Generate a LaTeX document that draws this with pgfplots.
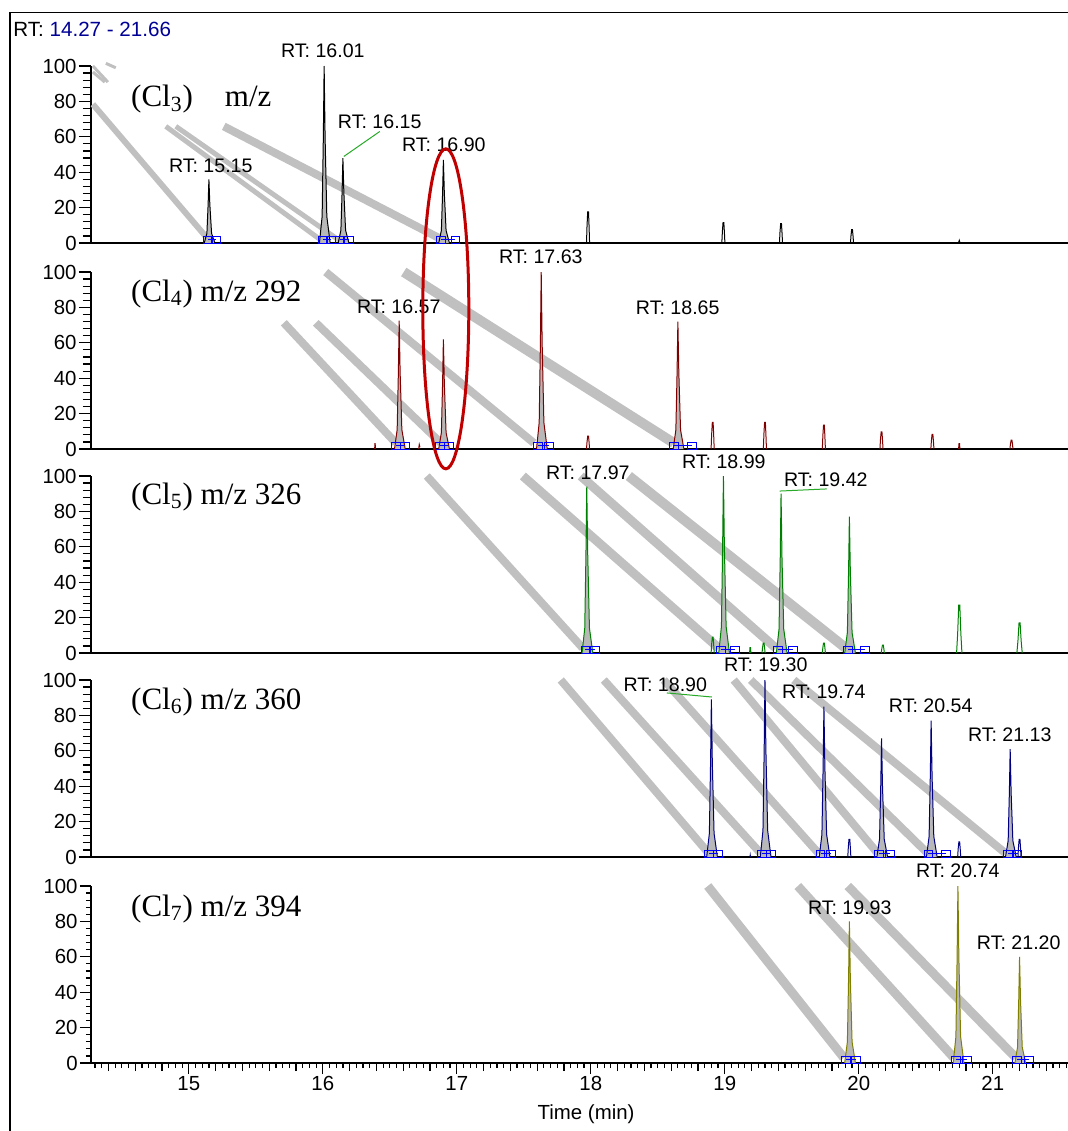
\documentclass[border=0pt]{standalone}
\usepackage{fontspec}
\setmainfont{Liberation Sans}
\newfontfamily\timesfont{Liberation Serif}
\usepackage{pgfplots}
\pgfplotsset{compat=1.18}

\definecolor{pkA}{RGB}{0,0,0}
\definecolor{pkB}{RGB}{128,0,0}
\definecolor{pkC}{RGB}{0,128,0}
\definecolor{pkD}{RGB}{0,0,128}
\definecolor{pkE}{RGB}{128,128,0}
\definecolor{bandc}{RGB}{192,192,192}
\definecolor{ellred}{RGB}{192,0,0}
\definecolor{rtblue}{RGB}{0,0,150}
\definecolor{lead}{RGB}{40,170,40}
\definecolor{mkblue}{RGB}{0,0,255}

\tikzset{
  rt/.style={font=\fontsize{9.8}{11}\selectfont, inner sep=0pt},
  lab/.style={font=\timesfont\fontsize{15.5}{18}\selectfont, anchor=west, inner sep=0pt},
}
\pgfplotsset{
  pnl/.style={scale only axis, width=495.1pt, height=88.5pt,
    xmin=14.27, xmax=21.66, ymin=0, ymax=100,
    axis lines*=left, clip=false, anchor=south west,
    ytick={0,20,...,100}, minor y tick num=4, xtick=\empty,
    tick align=outside, major tick length=6pt, minor tick length=4pt,
    ticklabel style={font=\fontsize{10.2}{12}\selectfont, inner sep=1pt},
    axis line style={line width=0.7pt},
    tick style={line width=0.6pt, black},
    /pgf/number format/assume math mode=true},
  band/.style={draw=bandc, line width=#1, no markers},
  pk/.style={draw=#1, fill=black!28, line width=0.5pt, no markers},
  sm/.style={draw=#1, line width=0.5pt, no markers},
  mk/.style={draw=mkblue, line width=0.5pt, mark=square, mark size=2.2pt,
    mark options={yscale=0.75, solid}},
}

\begin{document}
\begin{tikzpicture}
\useasboundingbox (0,0) rectangle (533.5pt,-565.5pt);
\draw[line width=0.8pt] (5pt,-570pt) -- (5pt,-6.25pt) -- (540pt,-6.25pt);
\node[anchor=west, inner sep=0pt, font=\fontsize{10.3}{12}\selectfont] at (6.5pt,-14.5pt) {RT: \textcolor{rtblue}{14.27 - 21.66}};

% ---------- Cl3 ----------
\begin{axis}[pnl, at={(45.5pt,-121.5pt)}]
\addplot[band=3pt] coordinates {(14.284,78.4) (15.149,1.7)};
\addplot[band=2.5pt] coordinates {(14.828,65.9) (15.985,1.7)};
\addplot[band=2.5pt] coordinates {(14.903,65.9) (16.119,1.7)};
\addplot[band=4pt] coordinates {(15.261,65.9) (16.896,1.7)};
\addplot[band=1.5pt] coordinates {(14.284,100) (14.396,90.9)};
\addplot[band=1.5pt] coordinates {(14.284,96.6) (14.373,90.9)};
\addplot[band=1.5pt] coordinates {(14.381,101.5) (14.455,99)};

\addplot[pk=pkA] coordinates {(15.115,0) (15.135,5.4) (15.144,21.6) (15.15,36) (15.157,21.6) (15.17,5.4) (15.195,0)};
\addplot[pk=pkA] coordinates {(15.975,0) (15.995,15) (16.004,60) (16.01,100) (16.017,60) (16.03,15) (16.055,0)};
\addplot[pk=pkA] coordinates {(16.115,0) (16.135,7.2) (16.144,28.8) (16.15,48) (16.157,28.8) (16.17,7.2) (16.195,0)};
\addplot[pk=pkA] coordinates {(16.865,0) (16.885,7.1) (16.894,28.2) (16.9,47) (16.907,28.2) (16.92,7.1) (16.945,0)};
\addplot[sm=pkA] coordinates {(17.968,0) (17.972,9.7) (17.977,17.6) (17.983,17.6) (17.987,9.7) (17.991,0)};
\addplot[sm=pkA] coordinates {(18.978,0) (18.982,6.3) (18.987,11.5) (18.993,11.5) (18.997,6.3) (19.001,0)};
\addplot[sm=pkA] coordinates {(19.408,0) (19.412,6) (19.417,11) (19.423,11) (19.427,6) (19.431,0)};
\addplot[sm=pkA] coordinates {(19.938,0) (19.942,4.1) (19.947,7.5) (19.953,7.5) (19.957,4.1) (19.961,0)};
\addplot[sm=pkA] coordinates {(20.745,0.3) (20.75,1.5) (20.755,0.3)};

\addplot[mk] coordinates {(15.145,1.8) (15.205,1.8)};
\addplot[mk] coordinates {(16.0,1.8) (16.06,1.8)};
\addplot[mk] coordinates {(16.125,1.8) (16.195,1.8)};
\addplot[mk] coordinates {(16.885,1.8) (16.99,1.8)};
\addplot[draw=lead, line width=0.5pt, no markers] coordinates {(16.157,48.9) (16.425,63)};

\node[rt] at (axis cs:15.164,43.75) {RT: 15.15};
\node[rt] at (axis cs:16.0,108.5) {RT: 16.01};
\node[rt] at (axis cs:16.425,68.75) {RT: 16.15};
\node[rt] at (axis cs:16.903,55.7) {RT: 16.90};
\node[lab] at (axis cs:14.567,81.25) {(Cl\textsubscript{3})\hspace{16pt}m/z};
\end{axis}

% ---------- Cl4 ----------
\begin{axis}[pnl, at={(45.5pt,-224.5pt)}]
\addplot[band=4pt] coordinates {(15.709,71.3) (16.545,3.4)};
\addplot[band=4pt] coordinates {(15.948,71.3) (16.881,3.4)};
\addplot[band=4pt] coordinates {(16.022,100) (17.575,3.4)};
\addplot[band=5pt] coordinates {(16.604,100) (18.619,3.4)};

\addplot[pk=pkB] coordinates {(16.535,0) (16.555,10.9) (16.564,43.5) (16.57,72.5) (16.577,43.5) (16.59,10.9) (16.615,0)};
\addplot[pk=pkB] coordinates {(16.865,0) (16.885,9.3) (16.894,37.2) (16.9,62) (16.907,37.2) (16.92,9.3) (16.945,0)};
\addplot[pk=pkB] coordinates {(17.595,0) (17.615,15) (17.624,60) (17.63,100) (17.637,60) (17.65,15) (17.675,0)};
\addplot[pk=pkB] coordinates {(18.615,0) (18.635,10.8) (18.644,43.2) (18.65,72) (18.657,43.2) (18.67,10.8) (18.695,0)};
\addplot[sm=pkB] coordinates {(16.387,0) (16.389,3) (16.391,3) (16.393,0)};
\addplot[sm=pkB] coordinates {(16.715,0) (16.72,2.5) (16.725,1)};
\addplot[sm=pkB] coordinates {(17.968,0) (17.972,4) (17.977,7.3) (17.983,7.3) (17.987,4) (17.991,0)};
\addplot[sm=pkB] coordinates {(18.898,0) (18.902,8.3) (18.907,15) (18.913,15) (18.917,8.3) (18.921,0)};
\addplot[sm=pkB] coordinates {(19.288,0) (19.292,8.3) (19.297,15) (19.303,15) (19.307,8.3) (19.311,0)};
\addplot[sm=pkB] coordinates {(19.728,0) (19.732,7.4) (19.737,13.5) (19.743,13.5) (19.747,7.4) (19.751,0)};
\addplot[sm=pkB] coordinates {(20.158,0) (20.162,5.3) (20.167,9.7) (20.173,9.7) (20.177,5.3) (20.181,0)};
\addplot[sm=pkB] coordinates {(20.538,0) (20.542,4.6) (20.547,8.3) (20.553,8.3) (20.557,4.6) (20.561,0)};
\addplot[sm=pkB] coordinates {(20.745,0) (20.748,3) (20.752,3) (20.755,0)};
\addplot[sm=pkB] coordinates {(21.128,0) (21.132,2.8) (21.137,5) (21.143,5) (21.147,2.8) (21.151,0)};

\addplot[mk] coordinates {(16.548,1.8) (16.615,1.8)};
\addplot[mk] coordinates {(16.873,1.8) (16.94,1.8)};
\addplot[mk] coordinates {(17.604,1.8) (17.69,1.8)};
\addplot[mk] coordinates {(18.62,1.8) (18.754,1.8)};

\node[rt] at (axis cs:16.567,80.3) {RT: 16.57};
\node[rt] at (axis cs:17.627,108.4) {RT: 17.63};
\node[rt] at (axis cs:18.649,79.8) {RT: 18.65};
\node[lab] at (axis cs:14.567,87.6) {(Cl\textsubscript{4}) m/z 292};
\draw[ellred, line width=1.5pt] (axis cs:16.918,79.2) ellipse (11.5pt and 80pt);
\end{axis}

% ---------- Cl5 ----------
\begin{axis}[pnl, at={(45.5pt,-326.5pt)}]
\addplot[band=4pt] coordinates {(16.776,100) (17.94,2.8)};
\addplot[band=4.5pt] coordinates {(17.493,100) (18.955,2.8)};
\addplot[band=4.5pt] coordinates {(17.925,100) (19.381,2.8)};
\addplot[band=5pt] coordinates {(18.284,100) (19.903,2.8)};

\addplot[pk=pkC] coordinates {(17.935,0) (17.955,14.1) (17.964,56.4) (17.97,94) (17.977,56.4) (17.99,14.1) (18.015,0)};
\addplot[pk=pkC] coordinates {(18.955,0) (18.975,15) (18.984,60) (18.99,100) (18.997,60) (19.01,15) (19.035,0)};
\addplot[pk=pkC] coordinates {(19.385,0) (19.405,13.5) (19.414,54) (19.42,90) (19.427,54) (19.44,13.5) (19.465,0)};
\addplot[pk=pkC] coordinates {(19.895,0) (19.915,11.6) (19.924,46.2) (19.93,77) (19.937,46.2) (19.95,11.6) (19.975,0)};
\addplot[sm=pkC] coordinates {(18.898,0) (18.902,4.9) (18.907,9) (18.913,9) (18.917,4.9) (18.921,0)};
\addplot[sm=pkC] coordinates {(19.185,0) (19.188,3) (19.192,3) (19.195,0)};
\addplot[sm=pkC] coordinates {(19.278,0) (19.282,3.1) (19.287,5.6) (19.293,5.6) (19.297,3.1) (19.301,0)};
\addplot[sm=pkC] coordinates {(19.728,0) (19.732,3.1) (19.737,5.6) (19.743,5.6) (19.747,3.1) (19.751,0)};
\addplot[sm=pkC] coordinates {(20.168,0) (20.172,2.5) (20.177,4.5) (20.183,4.5) (20.187,2.5) (20.191,0)};
\addplot[sm=pkC] coordinates {(20.73,0) (20.738,10.8) (20.746,27) (20.754,27) (20.762,10.8) (20.77,0)};
\addplot[sm=pkC] coordinates {(21.18,0) (21.188,6.8) (21.196,17) (21.204,17) (21.212,6.8) (21.22,0)};

\addplot[mk] coordinates {(17.96,1.8) (18.03,1.8)};
\addplot[mk] coordinates {(18.97,1.8) (19.075,1.8)};
\addplot[mk] coordinates {(19.395,1.8) (19.51,1.8)};
\addplot[mk] coordinates {(19.918,1.8) (20.045,1.8)};
\addplot[draw=lead, line width=0.5pt, no markers] coordinates {(19.41,91.5) (19.761,92.7)};

\node[rt] at (axis cs:17.978,101.7) {RT: 17.97};
\node[rt] at (axis cs:18.993,107.9) {RT: 18.99};
\node[rt] at (axis cs:19.754,97.7) {RT: 19.42};
\node[lab] at (axis cs:14.567,88.1) {(Cl\textsubscript{5}) m/z 326};
\end{axis}

% ---------- Cl6 ----------
\begin{axis}[pnl, at={(45.5pt,-428.5pt)}]
\addplot[band=4pt] coordinates {(17.776,100) (18.881,2)};
\addplot[band=4pt] coordinates {(18.097,100) (19.269,2)};
\addplot[band=4pt] coordinates {(18.545,100) (19.701,2)};
\addplot[band=4pt] coordinates {(19.067,100) (20.142,2)};
\addplot[band=4pt] coordinates {(19.194,100) (20.515,2)};
\addplot[band=4pt] coordinates {(19.515,100) (21.097,2)};

\addplot[pk=pkD] coordinates {(18.865,0) (18.885,13.4) (18.894,53.4) (18.9,89) (18.907,53.4) (18.92,13.4) (18.945,0)};
\addplot[pk=pkD] coordinates {(19.265,0) (19.285,15) (19.294,60) (19.3,100) (19.307,60) (19.32,15) (19.345,0)};
\addplot[pk=pkD] coordinates {(19.705,0) (19.725,12.8) (19.734,51) (19.74,85) (19.747,51) (19.76,12.8) (19.785,0)};
\addplot[pk=pkD] coordinates {(20.135,0) (20.155,10.1) (20.164,40.2) (20.17,67) (20.177,40.2) (20.19,10.1) (20.215,0)};
\addplot[pk=pkD] coordinates {(20.505,0) (20.525,11.6) (20.534,46.2) (20.54,77) (20.547,46.2) (20.56,11.6) (20.585,0)};
\addplot[pk=pkD] coordinates {(21.095,0) (21.115,9.2) (21.124,36.6) (21.13,61) (21.137,36.6) (21.15,9.2) (21.175,0)};
\addplot[sm=pkD] coordinates {(19.918,0) (19.922,5.5) (19.927,10) (19.933,10) (19.937,5.5) (19.941,0)};
\addplot[sm=pkD] coordinates {(20.738,0) (20.742,4.7) (20.747,8.5) (20.753,8.5) (20.757,4.7) (20.761,0)};
\addplot[sm=pkD] coordinates {(21.188,0) (21.192,5.5) (21.197,10) (21.203,10) (21.207,5.5) (21.211,0)};
\addplot[sm=pkD] coordinates {(19.188,0) (19.19,1) (19.192,0)};

\addplot[mk] coordinates {(18.885,1.8) (18.95,1.8)};
\addplot[mk] coordinates {(19.275,1.8) (19.345,1.8)};
\addplot[mk] coordinates {(19.715,1.8) (19.795,1.8)};
\addplot[mk] coordinates {(20.15,1.8) (20.235,1.8)};
\addplot[mk] coordinates {(20.52,1.8) (20.65,1.8)};
\addplot[mk] coordinates {(21.115,1.8) (21.185,1.8)};
\addplot[draw=lead, line width=0.5pt, no markers] coordinates {(18.567,92.7) (18.903,90.4)};

\node[rt] at (axis cs:18.556,97.2) {RT: 18.90};
\node[rt] at (axis cs:19.306,108.5) {RT: 19.30};
\node[rt] at (axis cs:19.739,93.2) {RT: 19.74};
\node[rt] at (axis cs:20.537,85.3) {RT: 20.54};
\node[rt] at (axis cs:21.127,68.9) {RT: 21.13};
\node[lab] at (axis cs:14.567,87.6) {(Cl\textsubscript{6}) m/z 360};
\end{axis}

% ---------- Cl7 ----------
\begin{axis}[pnl, at={(45.5pt,-531.5pt)},
  xtick={15,16,...,21},
  minor xtick={14.3,14.35,...,21.65},
  minor tick length=2.5pt, major tick length=5.5pt,
  extra x ticks={14.4,14.6,14.8,15.2,15.4,15.6,15.8,16.2,16.4,16.6,16.8,17.2,17.4,17.6,17.8,18.2,18.4,18.6,18.8,19.2,19.4,19.6,19.8,20.2,20.4,20.6,20.8,21.2,21.4,21.6},
  extra x tick labels={},
  extra x tick style={major tick length=4pt},
  xlabel={Time (min)},
  xlabel style={at={(axis description cs:0.5,0)}, anchor=center, yshift=-25.5pt, font=\fontsize{10.2}{12}\selectfont}]
\addplot[band=4.5pt] coordinates {(18.873,100) (19.888,3)};
\addplot[band=4.5pt] coordinates {(19.545,100) (20.709,3)};
\addplot[band=4.5pt] coordinates {(19.918,100) (21.172,3)};

\addplot[pk=pkE] coordinates {(19.895,0) (19.915,12) (19.924,48) (19.93,80) (19.937,48) (19.95,12) (19.975,0)};
\addplot[pk=pkE] coordinates {(20.705,0) (20.725,15) (20.734,60) (20.74,100) (20.747,60) (20.76,15) (20.785,0)};
\addplot[pk=pkE] coordinates {(21.165,0) (21.185,9) (21.194,36) (21.2,60) (21.207,36) (21.22,9) (21.245,0)};

\addplot[mk] coordinates {(19.905,1.8) (19.98,1.8)};
\addplot[mk] coordinates {(20.725,1.8) (20.81,1.8)};
\addplot[mk] coordinates {(21.18,1.8) (21.27,1.8)};

\node[rt] at (axis cs:20.739,108.4) {RT: 20.74};
\node[rt] at (axis cs:19.933,87.6) {RT: 19.93};
\node[rt] at (axis cs:21.194,68) {RT: 21.20};
\node[lab] at (axis cs:14.567,87.1) {(Cl\textsubscript{7}) m/z 394};
\end{axis}
\end{tikzpicture}
\end{document}
